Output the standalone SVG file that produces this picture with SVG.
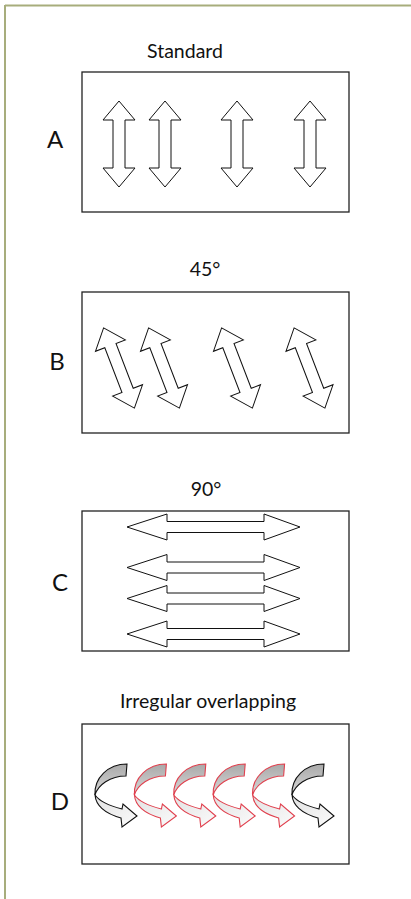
<svg xmlns="http://www.w3.org/2000/svg" xmlns:xlink="http://www.w3.org/1999/xlink" width="411" height="899" viewBox="0 0 411 899">
<style>
.frame{fill:none;stroke:#a7ad7c;stroke-width:2}
.box{fill:#fff;stroke:#222;stroke-width:1.3}
.arr{fill:#fff;stroke:#111;stroke-width:1;stroke-linejoin:miter}
.title{font-family:Lato,"Open Sans","Liberation Sans",sans-serif;font-size:19.5px;fill:#111;text-anchor:middle}
.letter{font-family:Lato,"Open Sans","Liberation Sans",sans-serif;font-size:24px;fill:#111;text-anchor:middle}
.topK{fill:url(#gTop);stroke:#111;stroke-width:1.1}
.botK{fill:url(#gBot);stroke:#111;stroke-width:1.1}
.topR{fill:url(#gTop);stroke:#e0404e;stroke-width:1.1}
.botR{fill:url(#gBot);stroke:#e0404e;stroke-width:1.1}
</style>
<defs>
<linearGradient id="gTop" x1="0" y1="0" x2="0" y2="1">
<stop offset="0" stop-color="#a9a9a9"/>
<stop offset="1" stop-color="#d8d8d8"/>
</linearGradient>
<linearGradient id="gBot" x1="0" y1="0" x2="1" y2="1">
<stop offset="0" stop-color="#e2e2e2"/>
<stop offset="1" stop-color="#fbfbfb"/>
</linearGradient>
<path id="vArrow" class="arr" d="M0,-43 L16,-24 L6,-24 L6,24 L16,24 L0,43 L-16,24 L-6,24 L-6,-24 L-16,-24 Z"/>
<path id="hArrow" class="arr" d="M127,0 L167,-13 L167,-5.5 L264,-5.5 L264,-13 L300,0 L264,13 L264,5.5 L167,5.5 L167,13 Z"/>
<path id="cTop" d="M127,764 C108,764 94,778 95,795 C98,785 110,776 126,776 Z"/>
<path id="cBot" d="M95,795 C96,807 107,814 121,818 L122,827 L137,816 L123,804 L122,809 C110,806 100,802 95,795 Z"/>
</defs>

<g id="frame">
<line class="frame" x1="5" y1="5.5" x2="411" y2="5.5"/>
<line class="frame" x1="5" y1="5" x2="5" y2="899"/>
</g>

<g id="panelA">
<text class="title" x="185" y="58">Standard</text>
<text class="letter" x="55" y="148">A</text>
<rect class="box" x="82" y="72" width="267" height="140"/>
<use xlink:href="#vArrow" transform="translate(119,144)"/>
<use xlink:href="#vArrow" transform="translate(165,144)"/>
<use xlink:href="#vArrow" transform="translate(237,144)"/>
<use xlink:href="#vArrow" transform="translate(310,144)"/>
</g>

<g id="panelB">
<text class="title" x="205" y="276">45°</text>
<text class="letter" x="57" y="370">B</text>
<rect class="box" x="82" y="292" width="267" height="141"/>
<use xlink:href="#vArrow" transform="translate(119,368) rotate(-21)"/>
<use xlink:href="#vArrow" transform="translate(164,368) rotate(-21)"/>
<use xlink:href="#vArrow" transform="translate(237,368) rotate(-21)"/>
<use xlink:href="#vArrow" transform="translate(309.5,368) rotate(-21)"/>
</g>

<g id="panelC">
<text class="title" x="206" y="496">90°</text>
<text class="letter" x="60" y="591">C</text>
<rect class="box" x="82" y="511" width="267" height="140"/>
<use xlink:href="#hArrow" transform="translate(0,527)"/>
<use xlink:href="#hArrow" transform="translate(0,567.5)"/>
<use xlink:href="#hArrow" transform="translate(0,598.5)"/>
<use xlink:href="#hArrow" transform="translate(0,634)"/>
</g>

<g id="panelD">
<text class="title" x="208" y="708">Irregular overlapping</text>
<text class="letter" x="60" y="810">D</text>
<rect class="box" x="82" y="724" width="267" height="140"/>
<g id="d1"><use xlink:href="#cTop" class="topK"/><use xlink:href="#cBot" class="botK"/></g>
<g id="d2" transform="translate(39.4,0)"><use xlink:href="#cTop" class="topR"/><use xlink:href="#cBot" class="botR"/></g>
<g id="d3" transform="translate(78.8,0)"><use xlink:href="#cTop" class="topR"/><use xlink:href="#cBot" class="botR"/></g>
<g id="d4" transform="translate(118.2,0)"><use xlink:href="#cTop" class="topR"/><use xlink:href="#cBot" class="botR"/></g>
<g id="d5" transform="translate(157.6,0)"><use xlink:href="#cTop" class="topR"/><use xlink:href="#cBot" class="botR"/></g>
<g id="d6" transform="translate(197,0)"><use xlink:href="#cTop" class="topK"/><use xlink:href="#cBot" class="botK"/></g>
</g>
</svg>
